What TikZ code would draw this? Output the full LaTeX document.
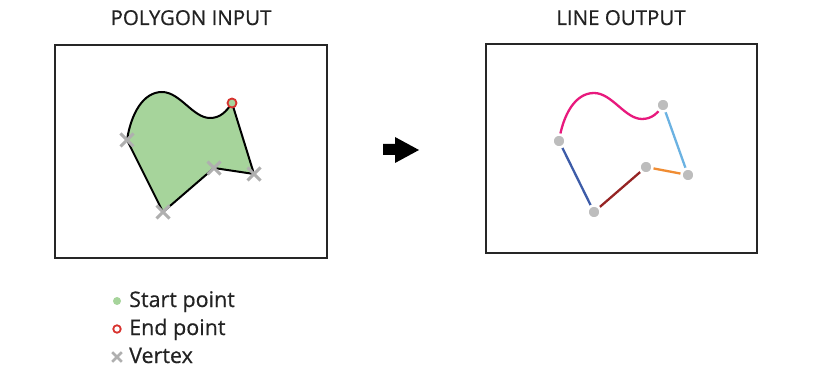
\documentclass[tikz,border=0pt]{standalone}
\usepackage{fontspec}
\setmainfont{Open Sans}[BoldFont={Open Sans}, BoldFeatures={FakeBold=0.5}]
\usetikzlibrary{shapes.misc}
\definecolor{polyfill}{HTML}{A6D49B}
\definecolor{endred}{HTML}{D8322E}
\definecolor{vgray}{HTML}{AFAFAF}
\definecolor{dotgray}{HTML}{BDBDBD}
\definecolor{cpink}{HTML}{E8197D}
\definecolor{clblue}{HTML}{6BB2E2}
\definecolor{corange}{HTML}{F08C32}
\definecolor{cdred}{HTML}{962424}
\definecolor{cdblue}{HTML}{3D5CA8}
\definecolor{txt}{HTML}{222222}
\begin{document}
\begin{tikzpicture}[x=1pt,y=-1pt,
  frame/.style={draw=black!85, line width=2pt},
  outline/.style={draw=black, line width=2pt, fill=polyfill, line join=round},
  vx/.style={cross out, draw=vgray, line width=3pt, minimum size=10pt, inner sep=0pt},
  endpt/.style={circle, draw=endred, line width=1.8pt, fill=polyfill, minimum size=9pt, inner sep=0pt},
  gdot/.style={circle, fill=dotgray, draw=white, line width=2.5pt, minimum size=13pt, inner sep=0pt},
  seg/.style={line width=2.3pt},
  title/.style={font=\bfseries\fontsize{20.5}{22}\selectfont, text=txt, anchor=base, inner sep=0pt},
  legtext/.style={font=\bfseries\fontsize{21.5}{23}\selectfont, text=txt, anchor=base west, inner sep=0pt}]
\useasboundingbox (0,0) rectangle (827,387);
\fill[white] (0,0) rectangle (827,387);

% titles
\node[title] (t1) at (191,25) {POLYGON INPUT};
\node[title] (t2) at (621,25) {LINE OUTPUT};

% frames
\draw[frame] (55,45) rectangle (327,258);
\draw[frame] (486,44) rectangle (757,253);

% polygon input
\coordinate (pL) at (127,140);
\coordinate (pB) at (163,212);
\coordinate (pM) at (214,168);
\coordinate (pR) at (254,174);
\coordinate (pT) at (232,103);
\filldraw[outline] (pT) -- (pR) -- (pM) -- (pB) -- (pL)
  .. controls (131,114) and (143,92) .. (162,92)
  .. controls (180,92) and (193,118) .. (210,118)
  .. controls (220,118) and (226,112) .. (pT) -- cycle;
\node[vx] (xL) at (pL) {};
\node[vx] (xB) at (pB) {};
\node[vx] (xM) at (pM) {};
\node[vx] (xR) at (pR) {};
\node[endpt] (eT) at (pT) {};

% arrow
\fill[black] (383,144) -- (395,144) -- (395,137) -- (419,150) -- (395,163) -- (395,155) -- (383,155) -- cycle;

% line output
\begin{scope}[shift={(432,1)}]
\coordinate (qL) at (127,140);
\coordinate (qB) at (162,211);
\coordinate (qM) at (214,166);
\coordinate (qR) at (256,174);
\coordinate (qT) at (231,104);
\draw[seg, cpink] (qL) .. controls (131,114) and (143,92) .. (162,92)
  .. controls (180,92) and (193,118) .. (210,118)
  .. controls (220,118) and (226,112) .. (qT);
\draw[seg, clblue] (qT) -- (qR);
\draw[seg, corange] (qR) -- (qM);
\draw[seg, cdred] (qM) -- (qB);
\draw[seg, cdblue] (qB) -- (qL);
\node[gdot] (dL) at (qL) {};
\node[gdot] (dB) at (qB) {};
\node[gdot] (dM) at (qM) {};
\node[gdot] (dR) at (qR) {};
\node[gdot] (dT) at (qT) {};
\end{scope}

% legend
\node[circle, fill=polyfill, minimum size=8pt, inner sep=0pt] (l1) at (117,301) {};
\node[circle, draw=endred, line width=1.8pt, minimum size=7.5pt, inner sep=0pt] (l2) at (117,329) {};
\node[cross out, draw=vgray, line width=2.6pt, minimum size=7pt, inner sep=0pt] (l3) at (117,357) {};
\node[legtext] (lt1) at (129,307) {Start point};
\node[legtext] (lt2) at (129,335) {End point};
\node[legtext] (lt3) at (129,363) {Vertex};
\end{tikzpicture}
\end{document}
